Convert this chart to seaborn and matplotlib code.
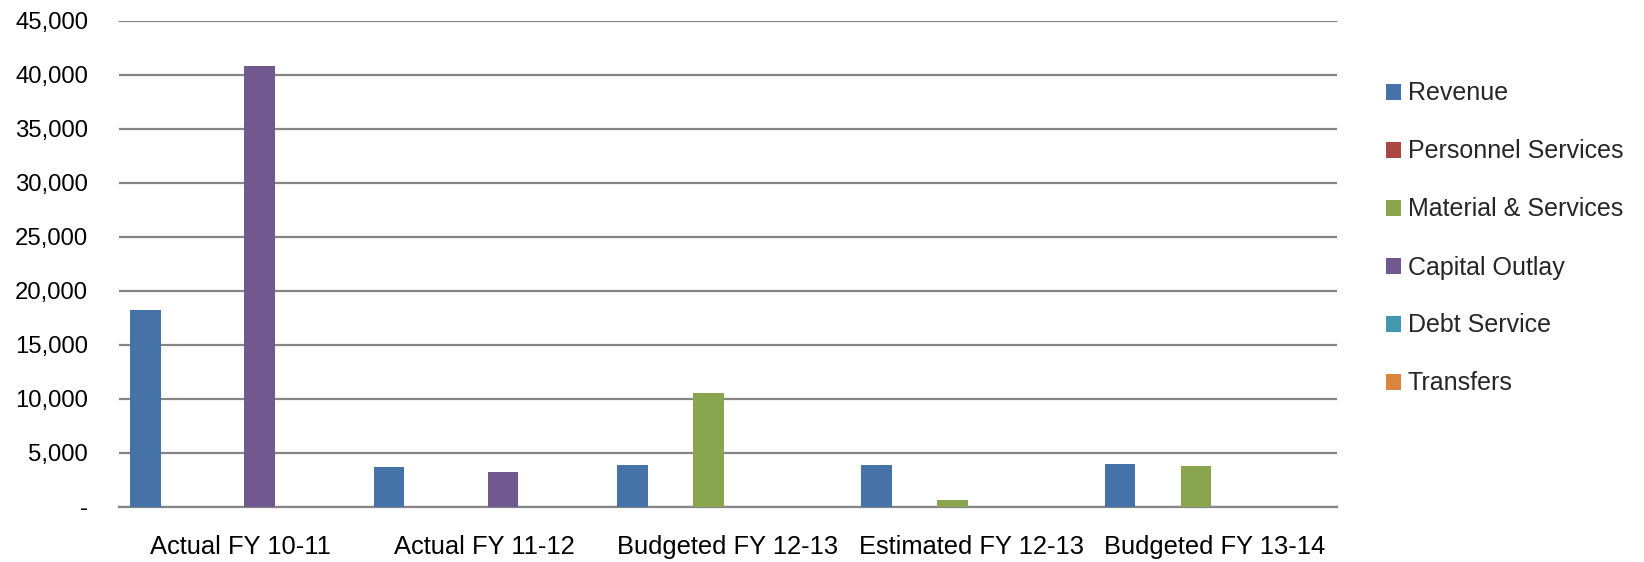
import matplotlib
matplotlib.use("Agg")
import matplotlib.pyplot as plt
from matplotlib.patches import Patch
from matplotlib.ticker import FuncFormatter, MultipleLocator
import pandas as pd
import seaborn as sns

# Fiscal periods and the amount for each budget line
periods = ["Actual FY 10-11", "Actual FY 11-12", "Budgeted FY 12-13",
           "Estimated FY 12-13", "Budgeted FY 13-14"]
revenue = [18200, 3650, 3830, 3860, 3920]
personnel_services = [0, 0, 0, 0, 0]
material_services = [0, 0, 10500, 590, 3740]
capital_outlay = [40850, 3240, 0, 0, 0]
debt_service = [0, 0, 0, 0, 0]
transfers = [0, 0, 0, 0, 0]

series_names = ["Revenue", "Personnel Services", "Material & Services",
                "Capital Outlay", "Debt Service", "Transfers"]
series_values = [revenue, personnel_services, material_services,
                 capital_outlay, debt_service, transfers]
colors = ["#4572A7", "#AA4643", "#89A54E", "#71588F", "#4198AF", "#DB843D"]

rows = []
for name, vals in zip(series_names, series_values):
    for p, v in zip(periods, vals):
        rows.append({"period": p, "series": name, "amount": v})
df = pd.DataFrame(rows)

sns.set_theme(style="white")
plt.rcParams["font.family"] = ["Liberation Sans", "DejaVu Sans"]

fig = plt.figure(figsize=(16.44, 5.62), dpi=100)
ax = fig.add_axes([118.7 / 1644, 1 - 506.7 / 562, (1336.7 - 118.7) / 1644,
                   (506.7 - 20.7) / 562])

sns.barplot(data=df, x="period", y="amount", hue="series",
            order=periods, hue_order=series_names, palette=colors,
            width=0.936, gap=0.19, saturation=1, errorbar=None,
            linewidth=0, ax=ax, legend=False, zorder=3)

ax.set_ylim(0, 45000)
ax.set_xlim(-0.5, len(periods) - 0.5)
ax.yaxis.set_major_locator(MultipleLocator(5000))
ax.yaxis.set_major_formatter(
    FuncFormatter(lambda v, _: "-" if v == 0 else f"{int(v):,}"))
ax.grid(axis="y", color="#868686", linewidth=1.6, zorder=0)
ax.set_axisbelow(True)
for side in ["top", "right", "left"]:
    ax.spines[side].set_visible(False)
ax.spines["bottom"].set_color("#868686")
ax.spines["bottom"].set_linewidth(1.6)

ax.tick_params(axis="y", length=0, pad=22, labelsize=17.2, labelcolor="#000000")
ax.tick_params(axis="x", length=0, pad=20.5, labelsize=18.4, labelcolor="#000000")
ax.set_xlabel("")
ax.set_ylabel("")

handles = [Patch(facecolor=c, edgecolor="none", label=n)
           for c, n in zip(colors, series_names)]
fig.legend(handles=handles, loc="upper left",
           bbox_to_anchor=(1386 / 1644, 1 - 81.5 / 562),
           frameon=False, fontsize=18, handlelength=0.6, handleheight=0.6,
           handletextpad=0.27, labelspacing=1.36, borderpad=0,
           borderaxespad=0)

fig.savefig("out.png", dpi=100, facecolor="white")
